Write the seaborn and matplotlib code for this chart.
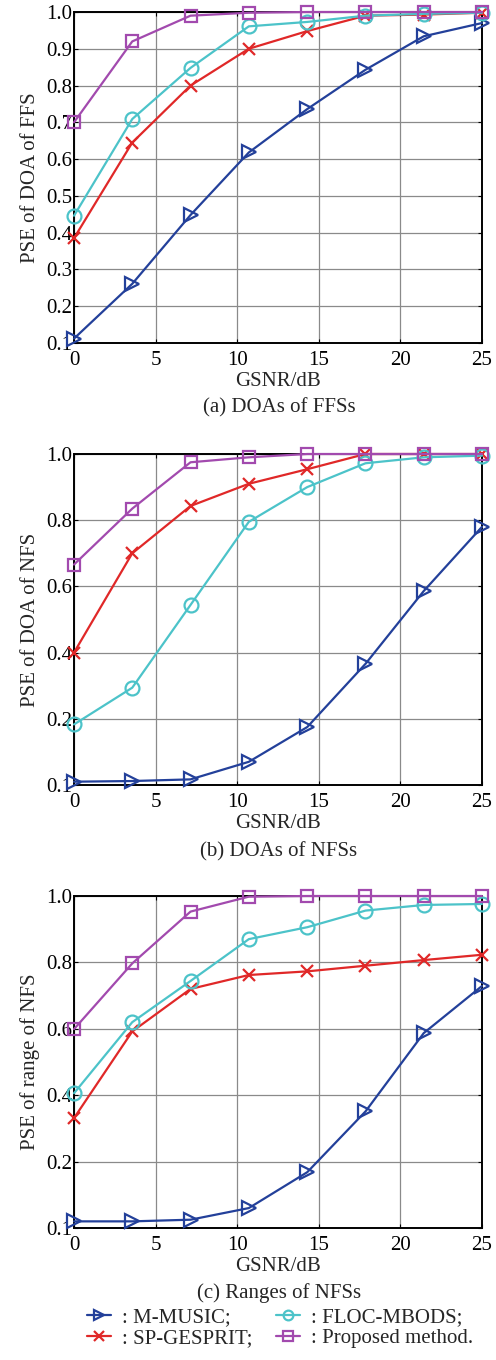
import numpy as np
import pandas as pd
import matplotlib
matplotlib.use("Agg")
import matplotlib.pyplot as plt
import seaborn as sns
from matplotlib.lines import Line2D

# ---------------- data ----------------
gsnr = [0, 3.57, 7.14, 10.71, 14.29, 17.86, 21.43, 25]
methods = ["M-MUSIC", "SP-GESPRIT", "FLOC-MBODS", "Proposed method"]

# (a) DOAs of FFSs
a_mmusic = [0.112, 0.261, 0.448, 0.618, 0.736, 0.843, 0.934, 0.970]
a_spgesprit = [0.385, 0.645, 0.800, 0.900, 0.948, 0.990, 0.993, 0.998]
a_floc = [0.446, 0.709, 0.848, 0.961, 0.973, 0.990, 0.995, 0.998]
a_proposed = [0.700, 0.920, 0.990, 0.998, 1.000, 1.000, 1.000, 1.000]

# (b) DOAs of NFSs
b_mmusic = [0.010, 0.012, 0.017, 0.070, 0.175, 0.366, 0.586, 0.780]
b_spgesprit = [0.400, 0.700, 0.843, 0.910, 0.954, 1.000, 1.000, 1.000]
b_floc = [0.183, 0.294, 0.544, 0.795, 0.900, 0.972, 0.990, 0.995]
b_proposed = [0.666, 0.835, 0.975, 0.990, 1.000, 1.000, 1.000, 1.000]

# (c) Ranges of NFSs
c_mmusic = [0.020, 0.020, 0.025, 0.060, 0.168, 0.351, 0.587, 0.729]
c_spgesprit = [0.331, 0.592, 0.720, 0.762, 0.773, 0.790, 0.807, 0.823]
c_floc = [0.406, 0.620, 0.744, 0.870, 0.906, 0.956, 0.973, 0.976]
c_proposed = [0.599, 0.797, 0.953, 0.998, 1.000, 1.000, 1.000, 1.000]

xticks = [0, 5, 10, 15, 20, 25]
a_yticks = [0.1, 0.2, 0.3, 0.4, 0.5, 0.6, 0.7, 0.8, 0.9, 1.0]
a_yticklabels = ["0.1", "0.2", "0.3", "0.4", "0.5", "0.6", "0.7", "0.8", "0.9", "1.0"]
bc_yticks = [0.0, 0.2, 0.4, 0.6, 0.8, 1.0]
bc_yticklabels = ["0.1", "0.2", "0.4", "0.6", "0.8", "1.0"]

ylabels = ["PSE of DOA of FFS", "PSE of DOA of NFS", "PSE of range of NFS"]
captions = ["(a) DOAs of FFSs", "(b) DOAs of NFSs", "(c) Ranges of NFSs"]
legend_labels = [": M-MUSIC;", ": SP-GESPRIT;", ": FLOC-MBODS;", ": Proposed method."]

# ---------------- style ----------------
sns.set_style("ticks")
plt.rcParams["font.family"] = ["Liberation Serif", "DejaVu Serif"]

colors = ["#23409a", "#e02828", "#4cc3c9", "#a24aae"]
markers = [">", "x", "o", "s"]
msizes = [10, 8, 10, 8]

W, H = 496, 1360
fig = plt.figure(figsize=(W / 100, H / 100), dpi=100)

panels = [
    (12, 343, [a_mmusic, a_spgesprit, a_floc, a_proposed], (0.1, 1.0), a_yticks, a_yticklabels),
    (454, 785, [b_mmusic, b_spgesprit, b_floc, b_proposed], (0.0, 1.0), bc_yticks, bc_yticklabels),
    (896, 1228, [c_mmusic, c_spgesprit, c_floc, c_proposed], (0.0, 1.0), bc_yticks, bc_yticklabels),
]
caption_y = [408, 852, 1293]

left_px, right_px = 74, 482
fs = 15
for i, (top, bot, series, ylim, yt, ytl) in enumerate(panels):
    ax = fig.add_axes([left_px / W, 1 - bot / H, (right_px - left_px) / W, (bot - top) / H])
    for j, vals in enumerate(series):
        df = pd.DataFrame({"GSNR": gsnr, "PSE": vals})
        fc = colors[j] if markers[j] == "x" else "none"
        sns.lineplot(data=df, x="GSNR", y="PSE", ax=ax, color=colors[j], lw=1.6,
                     marker=markers[j], markersize=msizes[j], markerfacecolor=fc,
                     markeredgecolor=colors[j], markeredgewidth=1.6, zorder=3 + j,
                     clip_on=False)
    ax.set_xlim(0, 25)
    ax.set_ylim(*ylim)
    ax.set_xticks(xticks)
    ax.set_xticklabels([str(t) for t in xticks])
    ax.set_yticks(yt)
    ax.set_yticklabels(ytl)
    ax.grid(True, color="#8a8a8a", lw=0.9)
    ax.set_axisbelow(True)
    for s in ax.spines.values():
        s.set_visible(True)
        s.set_color("black")
        s.set_linewidth(1.4)
    ax.tick_params(direction="in", length=3, width=0.8, labelsize=fs, colors="black",
                   top=True, right=True)
    ax.tick_params(axis="x", pad=6)
    ax.tick_params(axis="y", pad=1)
    ax.set_xlabel("GSNR/dB", fontsize=fs, labelpad=1)
    ax.set_ylabel(ylabels[i], fontsize=fs, labelpad=5)
    fig.text(279 / W, 1 - caption_y[i] / H, captions[i], fontsize=fs, ha="center", va="center")

handles = [Line2D([0], [0], color=colors[j], lw=1.6, marker=markers[j],
                  markersize=7,
                  markerfacecolor=(colors[j] if markers[j] == "x" else "none"),
                  markeredgecolor=colors[j], markeredgewidth=1.6) for j in range(4)]
fig.legend(handles, legend_labels, loc="center", bbox_to_anchor=(280 / W, 1 - 1328 / H),
           ncol=2, frameon=False, fontsize=fs, handlelength=1.15, handletextpad=0.5,
           columnspacing=1.15, labelspacing=0.05, borderaxespad=0, borderpad=0)

fig.savefig("out.png", dpi=100)
